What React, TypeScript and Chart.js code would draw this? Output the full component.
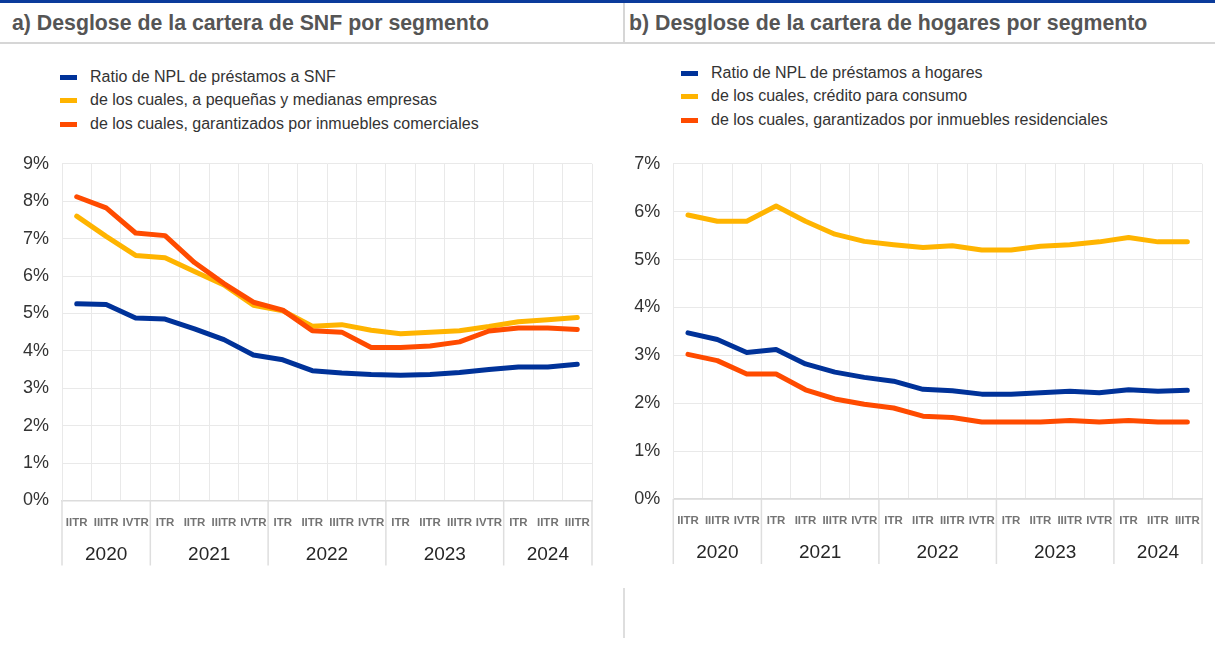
import React, { useEffect, useRef } from "react";
import Chart from "chart.js/auto";

// ---- Data ----
const QUARTERS = [
  "IITR", "IIITR", "IVTR",
  "ITR", "IITR", "IIITR", "IVTR",
  "ITR", "IITR", "IIITR", "IVTR",
  "ITR", "IITR", "IIITR", "IVTR",
  "ITR", "IITR", "IIITR",
];
const YEARS = ["2020", "2021", "2022", "2023", "2024"];
const YEAR_SPANS = [3, 4, 4, 4, 3];

const SNF_TOTAL = [5.26, 5.24, 4.88, 4.85, 4.59, 4.3, 3.89, 3.76, 3.47, 3.41, 3.37, 3.35, 3.37, 3.42, 3.5, 3.57, 3.57, 3.64];
const SNF_SME = [7.6, 7.06, 6.55, 6.49, 6.12, 5.76, 5.22, 5.07, 4.66, 4.7, 4.55, 4.46, 4.5, 4.54, 4.65, 4.78, 4.83, 4.89];
const SNF_CRE = [8.12, 7.82, 7.15, 7.08, 6.36, 5.8, 5.3, 5.09, 4.54, 4.5, 4.09, 4.09, 4.13, 4.24, 4.53, 4.61, 4.61, 4.57];

const HH_TOTAL = [3.47, 3.33, 3.06, 3.12, 2.82, 2.65, 2.54, 2.46, 2.29, 2.26, 2.19, 2.19, 2.22, 2.25, 2.22, 2.28, 2.25, 2.27];
const HH_CONS = [5.93, 5.8, 5.8, 6.12, 5.8, 5.53, 5.38, 5.31, 5.25, 5.29, 5.2, 5.2, 5.28, 5.31, 5.37, 5.46, 5.37, 5.37];
const HH_RES = [3.02, 2.89, 2.61, 2.61, 2.28, 2.09, 1.98, 1.9, 1.73, 1.7, 1.61, 1.61, 1.61, 1.64, 1.61, 1.64, 1.61, 1.61];

const LABELS_A = [
  "Ratio de NPL de préstamos a SNF",
  "de los cuales, a pequeñas y medianas empresas",
  "de los cuales, garantizados por inmuebles comerciales",
];
const LABELS_B = [
  "Ratio de NPL de préstamos a hogares",
  "de los cuales, crédito para consumo",
  "de los cuales, garantizados por inmuebles residenciales",
];

const BLUE = "#003299";
const YELLOW = "#FFB400";
const ORANGE = "#FF4B00";
const COLORS = [BLUE, YELLOW, ORANGE];
const FONT = "'Liberation Sans', Arial, Helvetica, sans-serif";

const yearPlugin = {
  id: "yearGroups",
  afterDraw(chart: any) {
    const xs = chart.scales.x;
    const area = chart.chartArea;
    const ctx = chart.ctx;
    const half = (xs.getPixelForValue(1) - xs.getPixelForValue(0)) / 2;
    const lineBottom = area.bottom + 65;
    ctx.save();
    ctx.strokeStyle = "#dedede";
    ctx.lineWidth = 1.5;
    ctx.fillStyle = "#262626";
    ctx.font = `19px ${FONT}`;
    ctx.textAlign = "center";
    ctx.textBaseline = "middle";
    let idx = 0;
    let end = 0;
    YEAR_SPANS.forEach((span, k) => {
      const start = xs.getPixelForValue(idx) - half;
      end = xs.getPixelForValue(idx + span - 1) + half;
      ctx.beginPath();
      ctx.moveTo(start, area.bottom);
      ctx.lineTo(start, lineBottom);
      ctx.stroke();
      ctx.fillText(YEARS[k], (start + end) / 2, area.bottom + 54);
      idx += span;
    });
    ctx.beginPath();
    ctx.moveTo(end, area.bottom);
    ctx.lineTo(end, lineBottom);
    ctx.stroke();
    ctx.restore();
  },
};

type PanelProps = {
  series: number[][];
  labels: string[];
  yMax: number;
  yWidth: number;
  xHeight: number;
  padTop: number;
  padRight: number;
};

function PanelChart({ series, labels, yMax, yWidth, xHeight, padTop, padRight }: PanelProps) {
  const ref = useRef<HTMLCanvasElement | null>(null);
  useEffect(() => {
    if (!ref.current) return;
    const chart = new Chart(ref.current, {
      type: "line",
      data: {
        labels: QUARTERS,
        datasets: series.map((d, i) => ({
          label: labels[i],
          data: d,
          borderColor: COLORS[i],
          backgroundColor: COLORS[i],
          borderWidth: 5,
          pointRadius: 0,
          tension: 0,
          borderCapStyle: "round",
          borderJoinStyle: "round",
          order: i === 0 ? 3 : i === 1 ? 2 : 1,
        })),
      },
      options: {
        animation: false,
        responsive: true,
        maintainAspectRatio: false,
        layout: { padding: { top: padTop, right: padRight, left: 0, bottom: 0 } },
        plugins: { legend: { display: false }, tooltip: { enabled: false } },
        scales: {
          x: {
            offset: true,
            grid: { offset: true, color: "#e9e9e9", lineWidth: 1, drawTicks: false },
            border: { color: "#dcdcdc", width: 1.5 },
            ticks: {
              autoSkip: false,
              maxRotation: 0,
              minRotation: 0,
              padding: 15,
              color: "#747474",
              font: { family: FONT, size: 11.5, weight: "bold" },
            },
            afterFit(scale: any) {
              scale.height = xHeight;
            },
          },
          y: {
            min: 0,
            max: yMax,
            grid: { color: "#e9e9e9", lineWidth: 1, drawTicks: false },
            border: { color: "#e9e9e9" },
            ticks: {
              stepSize: 1,
              padding: 13,
              color: "#333333",
              font: { family: FONT, size: 18 },
              callback: (v: any) => `${v}%`,
            },
            afterFit(scale: any) {
              scale.width = yWidth;
            },
          },
        },
      },
      plugins: [yearPlugin],
    } as any);
    return () => chart.destroy();
  }, []);
  return <canvas ref={ref} />;
}

function Legend({ labels, left, rows }: { labels: string[]; left: number; rows: number[] }) {
  return (
    <>
      {labels.map((l, i) => (
        <div
          key={i}
          style={{
            position: "absolute",
            left,
            top: rows[i] - 8,
            height: 16,
            display: "flex",
            alignItems: "center",
            whiteSpace: "nowrap",
            fontSize: 16,
            lineHeight: "16px",
            color: "#333",
          }}
        >
          <span style={{ display: "inline-block", width: 17, height: 5, background: COLORS[i], marginRight: 13 }} />
          <span>{l}</span>
        </div>
      ))}
    </>
  );
}

export default function App() {
  return (
    <div
      style={{
        position: "absolute",
        left: 0,
        top: 0,
        width: 1215,
        height: 645,
        overflow: "hidden",
        background: "#fff",
        fontFamily: FONT,
      }}
    >
      <div style={{ position: "absolute", left: 0, top: 0, width: 1215, height: 3, background: "#0b3b9b" }} />
      <div style={{ position: "absolute", left: 0, top: 42, width: 1215, height: 2, background: "#d6d6d6" }} />
      <div style={{ position: "absolute", left: 623, top: 3, width: 1.5, height: 39, background: "#d6d6d6" }} />
      <div style={{ position: "absolute", left: 623, top: 588, width: 1.5, height: 50, background: "#dedede" }} />
      <div
        style={{ position: "absolute", left: 12, top: 13, fontSize: 21.3, lineHeight: "21px", fontWeight: "bold", color: "#555", whiteSpace: "nowrap" }}
      >
        a) Desglose de la cartera de SNF por segmento
      </div>
      <div
        style={{ position: "absolute", left: 629, top: 13, fontSize: 21.3, lineHeight: "21px", fontWeight: "bold", color: "#555", whiteSpace: "nowrap" }}
      >
        b) Desglose de la cartera de hogares por segmento
      </div>
      <Legend labels={LABELS_A} left={60} rows={[77, 100, 124]} />
      <Legend labels={LABELS_B} left={681} rows={[73, 96, 120]} />
      <div style={{ position: "absolute", left: 0, top: 140, width: 620, height: 440 }}>
        <PanelChart
          series={[SNF_TOTAL, SNF_SME, SNF_CRE]}
          labels={LABELS_A}
          yMax={9}
          yWidth={62}
          xHeight={79.5}
          padTop={16.7}
          padRight={28}
        />
      </div>
      <div style={{ position: "absolute", left: 620, top: 140, width: 595, height: 440 }}>
        <PanelChart
          series={[HH_TOTAL, HH_CONS, HH_RES]}
          labels={LABELS_B}
          yMax={7}
          yWidth={53.3}
          xHeight={81}
          padTop={12.3}
          padRight={6.7}
        />
      </div>
    </div>
  );
}
